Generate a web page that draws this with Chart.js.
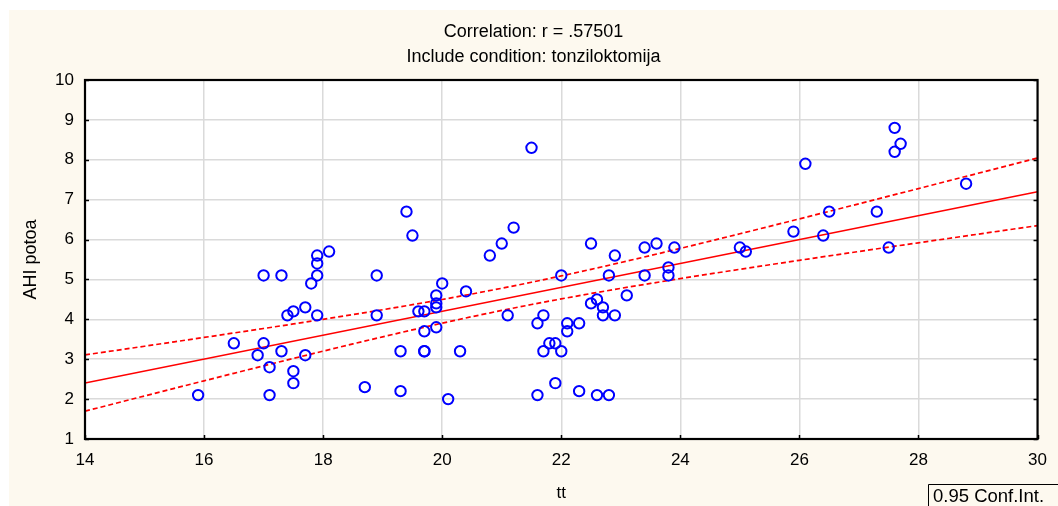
<!DOCTYPE html>
<html>
<head>
<meta charset="utf-8">
<script src="https://cdn.jsdelivr.net/npm/chart.js@4.4.1/dist/chart.umd.min.js"></script>
<style>
  html, body { margin: 0; padding: 0; background: #ffffff; }
  #c { display: block; }
</style>
</head>
<body>
<canvas id="c" width="1058" height="506"></canvas>
<script>
// tt (x) and AHI potoa (y) for the tonziloktomija group
const tt = [
  15.9, 16.5, 16.9, 17.0, 17.0, 17.1, 17.1, 17.3, 17.3, 17.4,
  17.5, 17.5, 17.5, 17.7, 17.7, 17.8, 17.9, 17.9, 17.9, 17.9,
  18.1, 18.7, 18.9, 18.9, 19.3, 19.3, 19.4, 19.5, 19.6, 19.7,
  19.7, 19.7, 19.7, 19.9, 19.9, 19.9, 19.9, 20.0, 20.1, 20.3,
  20.4, 20.8, 21.0, 21.1, 21.2, 21.5, 21.6, 21.6, 21.7, 21.7,
  21.8, 21.9, 21.9, 22.0, 22.0, 22.1, 22.1, 22.3, 22.3, 22.5,
  22.5, 22.6, 22.6, 22.7, 22.7, 22.8, 22.8, 22.9, 22.9, 23.1,
  23.4, 23.4, 23.6, 23.9, 23.8, 23.8, 25.0, 25.1, 26.1, 25.9,
  26.4, 26.5, 27.3, 27.5, 27.6, 27.6, 27.7, 28.8
];
const ahiPotoa = [
  2.1, 3.4, 3.1, 3.4, 5.1, 2.8, 2.1, 5.1, 3.2, 4.1,
  4.2, 2.7, 2.4, 4.3, 3.1, 4.9, 5.6, 5.4, 5.1, 4.1,
  5.7, 2.3, 5.1, 4.1, 3.2, 2.2, 6.7, 6.1, 4.2, 4.2,
  3.7, 3.2, 3.2, 4.6, 4.4, 4.3, 3.8, 4.9, 2.0, 3.2,
  4.7, 5.6, 5.9, 4.1, 6.3, 8.3, 3.9, 2.1, 4.1, 3.2,
  3.4, 3.4, 2.4, 5.1, 3.2, 3.9, 3.7, 3.9, 2.2, 5.9,
  4.4, 4.5, 2.1, 4.3, 4.1, 5.1, 2.1, 5.6, 4.1, 4.6,
  5.8, 5.1, 5.9, 5.8, 5.3, 5.1, 5.8, 5.7, 7.9, 6.2,
  6.1, 6.7, 6.7, 5.8, 8.8, 8.2, 8.4, 7.4
];

const xTicks = [14, 16, 18, 20, 22, 24, 26, 28, 30];
const yTicks = [1, 2, 3, 4, 5, 6, 7, 8, 9, 10];
const titleLines = ['Correlation: r = .57501', 'Include condition: tonziloktomija'];
const xLabel = 'tt';
const yLabel = 'AHI potoa';
const ciLabel = '0.95 Conf.Int.';
const CI_LEVEL_T = 1.98793; // t(0.975, n-2 = 86)

// least-squares fit and 95% confidence band for the mean
function fitLine(xs, ys) {
  const n = xs.length;
  const mx = xs.reduce((a, b) => a + b, 0) / n;
  const my = ys.reduce((a, b) => a + b, 0) / n;
  let sxx = 0, sxy = 0, syy = 0;
  for (let i = 0; i < n; i++) {
    const dx = xs[i] - mx, dy = ys[i] - my;
    sxx += dx * dx; sxy += dx * dy; syy += dy * dy;
  }
  const slope = sxy / sxx;
  const icpt = my - slope * mx;
  const s = Math.sqrt((syy - slope * sxy) / (n - 2));
  return { n, mx, sxx, slope, icpt, s };
}
const fit = fitLine(tt, ahiPotoa);
const xMin = xTicks[0], xMax = xTicks[xTicks.length - 1];
const fitPts = [xMin, xMax].map(x => ({ x, y: fit.icpt + fit.slope * x }));
const bandX = [];
for (let k = 0; k <= 32; k++) bandX.push(xMin + (xMax - xMin) * k / 32);
const half = x => CI_LEVEL_T * fit.s * Math.sqrt(1 / fit.n + (x - fit.mx) ** 2 / fit.sxx);
const upperPts = bandX.map(x => ({ x, y: fit.icpt + fit.slope * x + half(x) }));
const lowerPts = bandX.map(x => ({ x, y: fit.icpt + fit.slope * x - half(x) }));

const FONT = "'Liberation Sans', Arial, sans-serif";
const CREAM = '#fdf9ef';

// panel backgrounds, titles, inner tick marks, frame and legend box
const decor = {
  id: 'decor',
  beforeDraw(chart) {
    const { ctx, chartArea: a } = chart;
    ctx.save();
    ctx.fillStyle = '#ffffff';
    ctx.fillRect(0, 0, chart.width, chart.height);
    ctx.fillStyle = CREAM;
    ctx.fillRect(9, 10, chart.width - 9, chart.height - 10);
    ctx.fillStyle = '#ffffff';
    ctx.fillRect(a.left, a.top, a.right - a.left, a.bottom - a.top);
    ctx.restore();
  },
  afterDraw(chart) {
    const { ctx, chartArea: a, scales } = chart;
    ctx.save();
    // titles
    ctx.fillStyle = '#000';
    ctx.font = '18px ' + FONT;
    ctx.textAlign = 'center';
    ctx.textBaseline = 'middle';
    const cx = (9 + chart.width) / 2;
    ctx.fillText(titleLines[0], cx, 32);
    ctx.fillText(titleLines[1], cx, 57);
    // inner tick marks
    ctx.strokeStyle = '#000';
    ctx.lineWidth = 1.5;
    ctx.beginPath();
    yTicks.forEach(v => {
      const y = Math.round(scales.y.getPixelForValue(v)) + 0.5;
      ctx.moveTo(a.left, y); ctx.lineTo(a.left + 4, y);
      ctx.moveTo(a.right, y); ctx.lineTo(a.right - 4, y);
    });
    xTicks.forEach(v => {
      const x = Math.round(scales.x.getPixelForValue(v)) + 0.5;
      ctx.moveTo(x, a.bottom); ctx.lineTo(x, a.bottom - 4);
    });
    ctx.stroke();
    // frame
    ctx.lineWidth = 2.2;
    ctx.strokeRect(a.left, a.top, a.right - a.left, a.bottom - a.top);
    // confidence-interval legend box
    ctx.lineWidth = 1;
    ctx.beginPath();
    ctx.moveTo(928.5, chart.height);
    ctx.lineTo(928.5, 484.5);
    ctx.lineTo(chart.width, 484.5);
    ctx.stroke();
    ctx.font = '18.5px ' + FONT;
    ctx.textAlign = 'left';
    ctx.textBaseline = 'alphabetic';
    ctx.fillText(ciLabel, 933, 502);
    ctx.restore();
  }
};

new Chart(document.getElementById('c'), {
  type: 'scatter',
  data: {
    datasets: [
      {
        data: tt.map((x, i) => ({ x, y: ahiPotoa[i] })),
        pointStyle: 'circle',
        pointRadius: 5.2,
        pointBorderWidth: 2,
        borderColor: '#0000ff',
        backgroundColor: 'rgba(0,0,0,0)',
        order: 0
      },
      {
        type: 'line', data: fitPts, borderColor: '#ff0000', borderWidth: 1.7,
        pointRadius: 0, fill: false, tension: 0, order: 1
      },
      {
        type: 'line', data: upperPts, borderColor: '#ff0000', borderWidth: 1.7,
        borderDash: [5, 3], pointRadius: 0, fill: false, tension: 0, order: 1
      },
      {
        type: 'line', data: lowerPts, borderColor: '#ff0000', borderWidth: 1.7,
        borderDash: [5, 3], pointRadius: 0, fill: false, tension: 0, order: 1
      }
    ]
  },
  options: {
    responsive: false,
    animation: false,
    devicePixelRatio: 1,
    layout: { padding: { left: 0, right: 16, top: 80, bottom: 0 } },
    plugins: { legend: { display: false }, tooltip: { enabled: false }, title: { display: false } },
    scales: {
      x: {
        type: 'linear', min: xMin, max: xMax,
        afterBuildTicks: s => { s.ticks = xTicks.map(v => ({ value: v })); },
        afterFit: s => { s.height = 67; },
        grid: { color: '#dadada', lineWidth: 1.5, drawTicks: false },
        border: { display: false },
        ticks: { color: '#000', font: { family: FONT, size: 17 }, padding: 11, maxRotation: 0 },
        title: { display: true, text: xLabel, color: '#000', font: { family: FONT, size: 17 }, padding: { top: 0, bottom: 2 } }
      },
      y: {
        type: 'linear', min: yTicks[0], max: yTicks[yTicks.length - 1],
        afterBuildTicks: s => { s.ticks = yTicks.map(v => ({ value: v })); },
        afterFit: s => { s.width = 85; },
        grid: { color: '#dadada', lineWidth: 1.5, drawTicks: false },
        border: { display: false },
        ticks: { color: '#000', font: { family: FONT, size: 17 }, padding: 11 },
        title: { display: true, text: yLabel, color: '#000', font: { family: FONT, size: 18 }, padding: { top: 20, bottom: 0 } }
      }
    }
  },
  plugins: [decor]
});
</script>
</body>
</html>
